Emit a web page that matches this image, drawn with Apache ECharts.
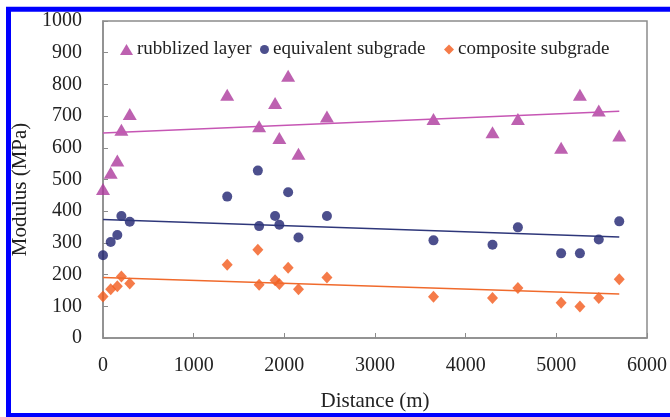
<!DOCTYPE html>
<html>
<head>
<meta charset="utf-8">
<script src="https://cdn.jsdelivr.net/npm/echarts@6/dist/echarts.min.js"></script>
<style>
    html, body { margin: 0; padding: 0; background: #fff; overflow: hidden; }
    #chart { width: 670px; height: 417px; }
</style>
</head>
<body>
<div id="chart"></div>
<script>
// distance along the section (m), shared by the three series
var distance = [0, 85, 158, 203, 295, 1370, 1708, 1722, 1898, 1945, 2042, 2156, 2470, 3645, 4296, 4576, 5053, 5260, 5468, 5694];
// modulus (MPa)
var rubblized = [470, 521, 560, 657, 707, 767, null, 668, 741, 631, 827, 581, 699, 691, 649, 691, 600, 767, 718, 639];
var equivalent = [261, 303, 325, 385, 367, 446, 528, 353, 385, 357, 460, 317, 385, 308, 294, 349, 267, 267, 311, 368];
var composite = [131, 154, 163, 194, 172, 231, 278, 168, 182, 170, 222, 154, 191, 130, 126, 158, 111, 99, 126, 185];
// linear trend end points
var trendX = [0, 5694];
var rubblizedTrend = [647, 715];
var equivalentTrend = [374, 319];
var compositeTrend = [191, 139];

var names = ["rubblized layer", "equivalent subgrade", "composite subgrade"];
var serif = "'Liberation Serif', 'DejaVu Serif', serif";

function pairs(xs, ys) {
    var out = [];
    xs.forEach(function (x, i) {
        if (ys[i] !== null) out.push([x, ys[i]]);
    });
    return out;
}

function legendAt(name, left, icon, w, h) {
    return {
        data: [name],
        left: left,
        top: 40,
        icon: icon,
        itemWidth: w,
        itemHeight: h,
        itemGap: 0,
        padding: 0,
        textStyle: { fontFamily: serif, fontSize: 19, color: "#222", padding: [0, 0, 0, -1] }
    };
}

var axisCommon = {
    axisLine: { lineStyle: { color: "#8c8c8c", width: 1.5 } },
    axisTick: { inside: true, length: 5, lineStyle: { color: "#8c8c8c" } },
    splitLine: { show: false },
    axisLabel: {
        fontFamily: serif, fontSize: 20, color: "#222",
        formatter: function (v) { return String(v); }
    },
    nameTextStyle: { fontFamily: serif, fontSize: 21, color: "#222" }
};

// blue frame round the figure (right side falls outside the window)
var frameStyle = { stroke: "#0000ff", lineWidth: 5 };

var myChart = echarts.init(document.getElementById("chart"));
myChart.setOption({
    animation: false,
    backgroundColor: "#fff",
    grid: {
        left: 103, right: 18, top: 21, bottom: 78,
        show: true, borderColor: "#8c8c8c", borderWidth: 1.5
    },
    graphic: [
        { type: "line", silent: true, shape: { x1: 6, y1: 9.2, x2: 680, y2: 9.2 }, style: frameStyle },
        { type: "line", silent: true, shape: { x1: 8.5, y1: 7, x2: 8.5, y2: 417 }, style: frameStyle },
        { type: "line", silent: true, shape: { x1: 6, y1: 415.5, x2: 680, y2: 415.5 }, style: frameStyle }
    ],
    legend: [
        legendAt(names[0], 120, "triangle", 13, 11),
        legendAt(names[1], 260, "circle", 9, 9),
        legendAt(names[2], 444, "diamond", 10, 10)
    ],
    xAxis: Object.assign({}, axisCommon, {
        type: "value",
        min: 0, max: 6000, interval: 1000,
        name: "Distance (m)",
        nameLocation: "middle",
        nameGap: 53,
        axisLabel: Object.assign({}, axisCommon.axisLabel, { margin: 18 })
    }),
    yAxis: Object.assign({}, axisCommon, {
        type: "value",
        min: 0, max: 1000, interval: 100,
        name: "Modulus (MPa)",
        nameLocation: "middle",
        nameGap: 72,
        nameTextStyle: Object.assign({}, axisCommon.nameTextStyle, { padding: [0, 20, 0, 0] }),
        axisLabel: Object.assign({}, axisCommon.axisLabel, { margin: 21 })
    }),
    series: [
        {
            name: names[0], type: "scatter", clip: false,
            symbol: "triangle", symbolSize: [14, 12],
            itemStyle: { color: "#ad3a9c" },
            data: pairs(distance, rubblized)
        },
        {
            name: names[1], type: "scatter", clip: false,
            symbol: "circle", symbolSize: 10,
            itemStyle: { color: "#1f2370" },
            data: pairs(distance, equivalent)
        },
        {
            name: names[2], type: "scatter", clip: false,
            symbol: "diamond", symbolSize: [11, 12],
            itemStyle: { color: "#f25a1c" },
            data: pairs(distance, composite)
        },
        {
            type: "line", symbol: "none", silent: true,
            lineStyle: { color: "#c656b4", width: 1.5 },
            data: pairs(trendX, rubblizedTrend)
        },
        {
            type: "line", symbol: "none", silent: true,
            lineStyle: { color: "#2e377a", width: 1.5 },
            data: pairs(trendX, equivalentTrend)
        },
        {
            type: "line", symbol: "none", silent: true,
            lineStyle: { color: "#f06a2c", width: 1.5 },
            data: pairs(trendX, compositeTrend)
        }
    ]
});
</script>
</body>
</html>
